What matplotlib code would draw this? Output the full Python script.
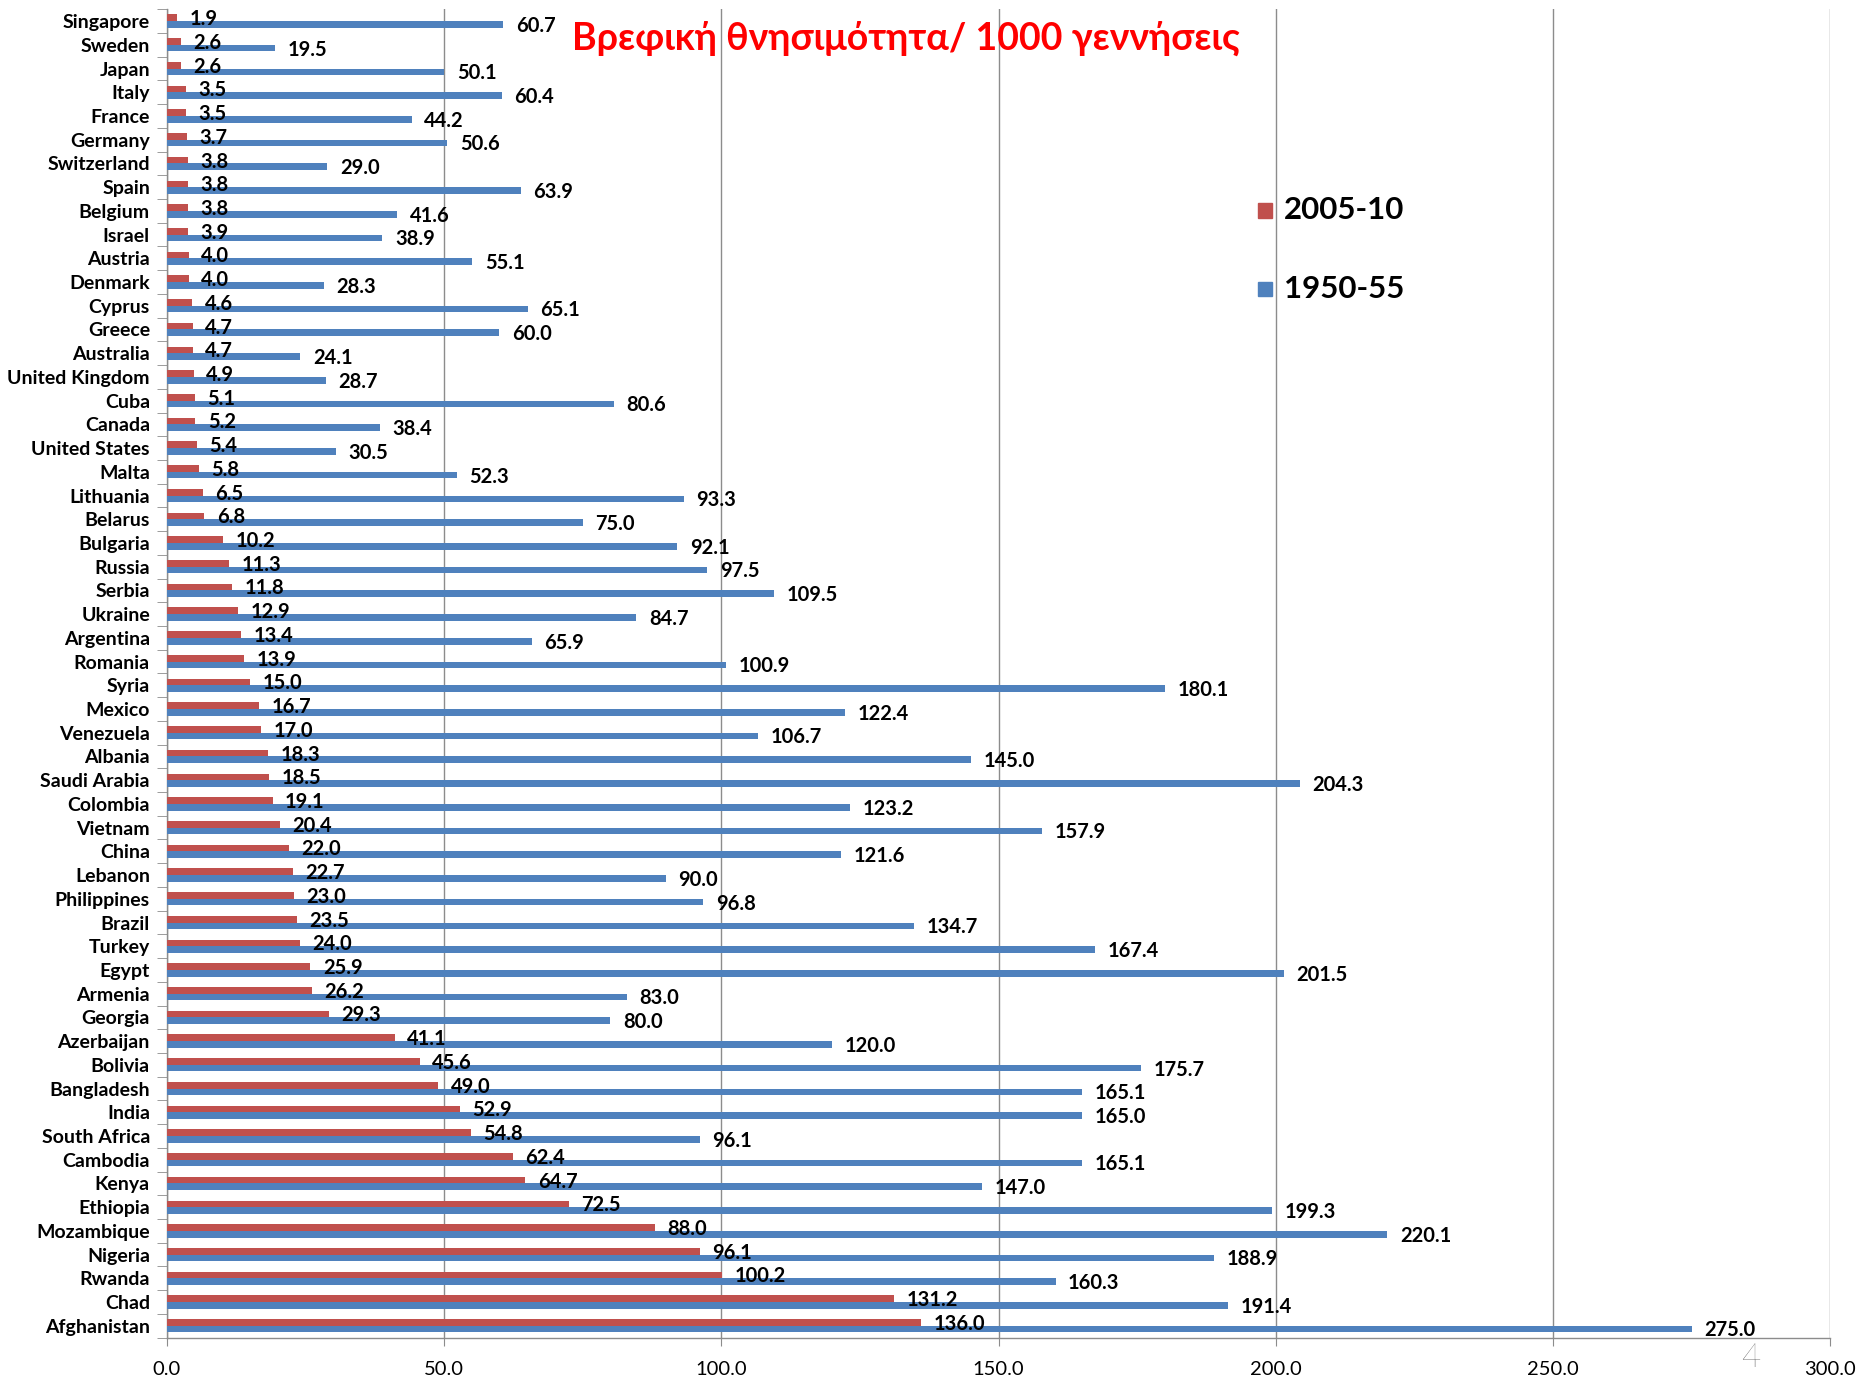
import numpy as np
import matplotlib
matplotlib.use("Agg")
import matplotlib.pyplot as plt
from matplotlib.patches import Rectangle

countries = [
    "Singapore", "Sweden", "Japan", "Italy", "France", "Germany", "Switzerland",
    "Spain", "Belgium", "Israel", "Austria", "Denmark", "Cyprus", "Greece",
    "Australia", "United Kingdom", "Cuba", "Canada", "United States", "Malta",
    "Lithuania", "Belarus", "Bulgaria", "Russia", "Serbia", "Ukraine",
    "Argentina", "Romania", "Syria", "Mexico", "Venezuela", "Albania",
    "Saudi Arabia", "Colombia", "Vietnam", "China", "Lebanon", "Philippines",
    "Brazil", "Turkey", "Egypt", "Armenia", "Georgia", "Azerbaijan", "Bolivia",
    "Bangladesh", "India", "South Africa", "Cambodia", "Kenya", "Ethiopia",
    "Mozambique", "Nigeria", "Rwanda", "Chad", "Afghanistan",
]

rate_2005_10 = [
    1.9, 2.6, 2.6, 3.5, 3.5, 3.7, 3.8, 3.8, 3.8, 3.9, 4.0, 4.0, 4.6, 4.7,
    4.7, 4.9, 5.1, 5.2, 5.4, 5.8, 6.5, 6.8, 10.2, 11.3, 11.8, 12.9, 13.4,
    13.9, 15.0, 16.7, 17.0, 18.3, 18.5, 19.1, 20.4, 22.0, 22.7, 23.0, 23.5,
    24.0, 25.9, 26.2, 29.3, 41.1, 45.6, 49.0, 52.9, 54.8, 62.4, 64.7, 72.5,
    88.0, 96.1, 100.2, 131.2, 136.0,
]

rate_1950_55 = [
    60.7, 19.5, 50.1, 60.4, 44.2, 50.6, 29.0, 63.9, 41.6, 38.9, 55.1, 28.3,
    65.1, 60.0, 24.1, 28.7, 80.6, 38.4, 30.5, 52.3, 93.3, 75.0, 92.1, 97.5,
    109.5, 84.7, 65.9, 100.9, 180.1, 122.4, 106.7, 145.0, 204.3, 123.2,
    157.9, 121.6, 90.0, 96.8, 134.7, 167.4, 201.5, 83.0, 80.0, 120.0, 175.7,
    165.1, 165.0, 96.1, 165.1, 147.0, 199.3, 220.1, 188.9, 160.3, 191.4,
    275.0,
]

series_labels = ["2005-10", "1950-55"]
x_ticks = [0, 50, 100, 150, 200, 250, 300]
title = "Βρεφική θνησιμότητα/ 1000 γεννήσεις"

RED = "#C0504D"
BLUE = "#4F81BD"
GRID = "#8C8C8C"
FONT = ["Lato", "DejaVu Sans"]

plt.rcParams["font.family"] = FONT

fig = plt.figure(figsize=(18.64, 13.80), dpi=100)
ax = fig.add_axes([0.0894, 0.0307, 0.8926, 0.9626])

y = np.arange(len(countries))
h = 0.28
ax.barh(y - h / 2, rate_2005_10, height=h, color=RED, zorder=3)
ax.barh(y + h / 2, rate_1950_55, height=h, color=BLUE, zorder=3)

for yi, v in zip(y, rate_2005_10):
    ax.annotate(f"{v:.1f}", (v, yi - h / 2), xytext=(9, -1),
                textcoords="offset points", ha="left", va="center",
                fontsize=14.5, fontweight="bold", color="black", zorder=4)
for yi, v in zip(y, rate_1950_55):
    ax.annotate(f"{v:.1f}", (v, yi + h / 2), xytext=(9, -1),
                textcoords="offset points", ha="left", va="center",
                fontsize=14.5, fontweight="bold", color="black", zorder=4)

ax.set_xlim(0, 300)
ax.set_ylim(len(countries) - 0.5, -0.5)
ax.set_xticks(x_ticks)
ax.set_xticklabels([f"{t:.1f}" for t in x_ticks], fontsize=14.5)
ax.set_yticks(y)
ax.set_yticklabels(countries, fontsize=14, fontweight="bold")
ax.tick_params(axis="y", length=0, pad=12)
ax.tick_params(axis="x", length=6, color=GRID, pad=11)

# category separator ticks on the value axis
ax.set_yticks(np.arange(len(countries) + 1) - 0.5, minor=True)
ax.tick_params(axis="y", which="minor", length=7, color=GRID)

ax.grid(axis="x", color=GRID, linewidth=1.0, zorder=0)
for side in ["top", "right"]:
    ax.spines[side].set_visible(False)
for side in ["left", "bottom"]:
    ax.spines[side].set_color(GRID)
    ax.spines[side].set_linewidth(1.0)

fig.text(0.486, 0.972, title, color="#FF0000", fontsize=27,
         fontweight="bold", ha="center", va="center")

# legend drawn as swatches and labels in figure coordinates
for (lbl, col, yc) in [(series_labels[0], RED, 0.8475), (series_labels[1], BLUE, 0.7905)]:
    fig.patches.append(Rectangle((0.675, yc - 0.0052), 0.0075, 0.0104,
                                 transform=fig.transFigure, color=col))
    fig.text(0.689, yc, lbl, fontsize=22.5, fontweight="bold",
             ha="left", va="center", color="black")

fig.text(0.939, 0.016, "4", fontsize=24, fontweight="light",
         color="#333333", ha="center", va="center")

fig.savefig("out.png", dpi=100)
